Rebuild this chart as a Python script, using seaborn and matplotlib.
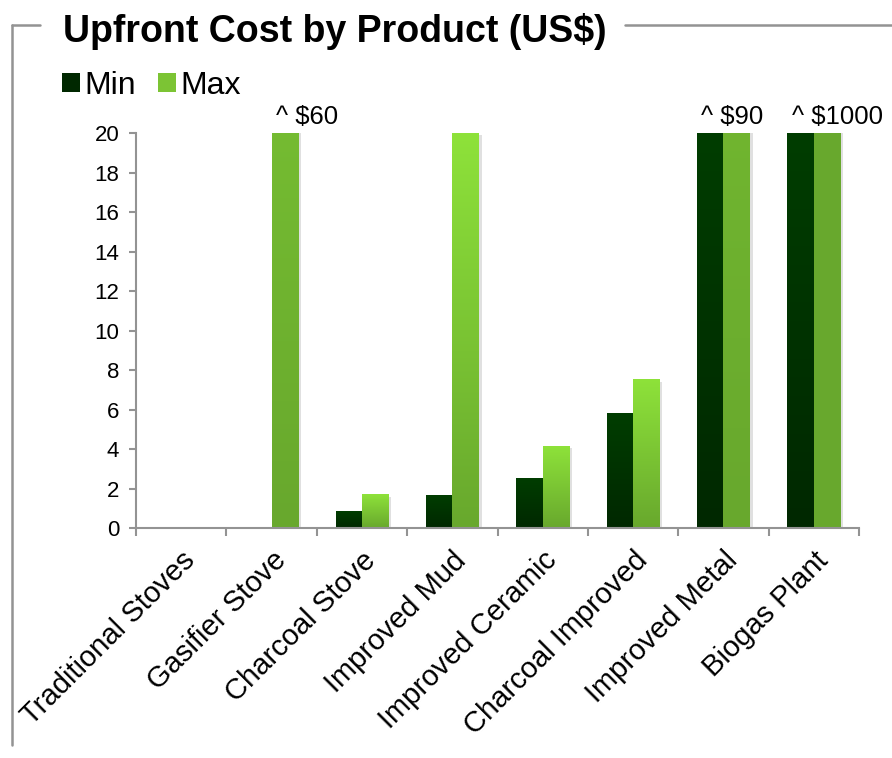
import numpy as np
import pandas as pd
import matplotlib
matplotlib.use("Agg")
import matplotlib.pyplot as plt
import matplotlib.patheffects as pe
from matplotlib.colors import LinearSegmentedColormap
from matplotlib.patches import Patch
from matplotlib.lines import Line2D
import seaborn as sns

# ---- data ----
categories = ["Traditional Stoves", "Gasifier Stove", "Charcoal Stove", "Improved Mud",
              "Improved Ceramic", "Charcoal Improved", "Improved Metal", "Biogas Plant"]
min_cost = [0, 0, 0.85, 1.67, 2.53, 5.82, 20, 20]
max_cost = [0, 60, 1.7, 20, 4.15, 7.5, 90, 1000]
over_labels = ["", "^ $60", "", "", "", "", "^ $90", "^ $1000"]
series = ["Min", "Max"]
y_ticks = [0, 2, 4, 6, 8, 10, 12, 14, 16, 18, 20]
y_max = 20

# ---- style ----
sns.set_style("white")
plt.rcParams["font.family"] = ["Liberation Sans", "DejaVu Sans"]
plt.rcParams["text.color"] = "black"
plt.rcParams["xtick.color"] = "black"
plt.rcParams["ytick.color"] = "black"

min_top, min_bot = "#003d00", "#002800"
max_top, max_bot = "#8ee23a", "#68a82d"
axis_gray = "#939393"

df = pd.DataFrame({
    "Product": categories * 2,
    "Series": ["Min"] * len(categories) + ["Max"] * len(categories),
    "Cost": min_cost + max_cost,
})

fig = plt.figure(figsize=(8.92, 7.58), dpi=100)
ax = fig.add_axes([136 / 892, 1 - 528 / 758, (859 - 136) / 892, (528 - 133) / 758])

sns.barplot(data=df, x="Product", y="Cost", hue="Series", order=categories,
            hue_order=series, palette={"Min": min_bot, "Max": max_bot},
            width=0.585, linewidth=0, legend=False, ax=ax, errorbar=None)

ax.set_xlim(-0.5, len(categories) - 0.5)
ax.set_ylim(0, y_max)

# gradients + soft shadows
grads = [(min_top, min_bot, min_cost), (max_top, max_bot, max_cost)]
for cont, (ctop, cbot, vals) in zip(ax.containers, grads):
    cmap = LinearSegmentedColormap.from_list("g", [cbot, ctop])
    for bar, v in zip(cont.patches, vals):
        if v <= 0:
            continue
        bar.set_clip_on(True)
        bar.set_path_effects([pe.SimplePatchShadow(offset=(2, -1.5), shadow_rgbFace="k", alpha=0.12),
                              pe.Normal()])
        x0, w = bar.get_x(), bar.get_width()
        ax.imshow(np.linspace(1, 0, 256)[:, None], extent=[x0, x0 + w, 0, v],
                  origin="upper", cmap=cmap, vmin=0, vmax=1, aspect="auto",
                  zorder=bar.get_zorder() + 0.1, interpolation="bilinear")
ax.set_xlim(-0.5, len(categories) - 0.5)
ax.set_ylim(0, y_max)

# annotations for values beyond axis
for i, lab in enumerate(over_labels):
    if not lab:
        continue
    if min_cost[i] >= y_max:
        xa = ax.containers[0].patches[i].get_x()
    else:
        xa = ax.containers[1].patches[i].get_x()
    ax.annotate(lab, xy=(xa, y_max), xytext=(3, 3), textcoords="offset points",
                ha="left", va="bottom", fontsize=18.5, annotation_clip=False, color="black")

# axes styling
for s in ["top", "right"]:
    ax.spines[s].set_visible(False)
for s in ["left", "bottom"]:
    ax.spines[s].set_color(axis_gray)
    ax.spines[s].set_linewidth(1.5)

ax.set_yticks(y_ticks)
ax.set_yticklabels([str(t) for t in y_ticks], fontsize=16)
ax.tick_params(axis="y", direction="out", length=5, width=1.5, color=axis_gray, pad=7,
               left=True, labelcolor="black")

ax.set_xticks(range(len(categories)))
ax.set_xticklabels(categories, fontsize=21, rotation=45, ha="right", rotation_mode="anchor")
ax.tick_params(axis="x", which="major", length=0, pad=13, labelcolor="black")
ax.set_xticks(np.arange(-0.5, len(categories), 1), minor=True)
ax.tick_params(axis="x", which="minor", direction="out", length=6, width=1.5, color=axis_gray, bottom=True)
ax.set_xlabel("")
ax.set_ylabel("")

# legend
handles = [Patch(facecolor=min_bot, edgecolor="none", label="Min"),
           Patch(facecolor="#7cc434", edgecolor="none", label="Max")]
fig.legend(handles=handles, loc="center left", bbox_to_anchor=(62 / 892, 1 - 86 / 758),
           ncol=2, frameon=False, fontsize=23, handlelength=0.55, handleheight=0.55,
           handletextpad=0.15, columnspacing=0.7, borderaxespad=0, borderpad=0,
           labelcolor="black")

# title + frame
fig.text(63 / 892, 1 - 32 / 758, "Upfront Cost by Product (US$)", fontsize=27,
         fontweight="bold", ha="left", va="center", color="black")
ly = 1 - 25 / 758
fig.add_artist(Line2D([12 / 892, 40 / 892], [ly, ly], color=axis_gray, lw=1.8, transform=fig.transFigure))
fig.add_artist(Line2D([625 / 892, 1.0], [ly, ly], color=axis_gray, lw=1.8, transform=fig.transFigure))
fig.add_artist(Line2D([12 / 892, 12 / 892], [ly, 1 - 745 / 758], color=axis_gray, lw=1.8, transform=fig.transFigure))

fig.savefig("out.png", dpi=100)
